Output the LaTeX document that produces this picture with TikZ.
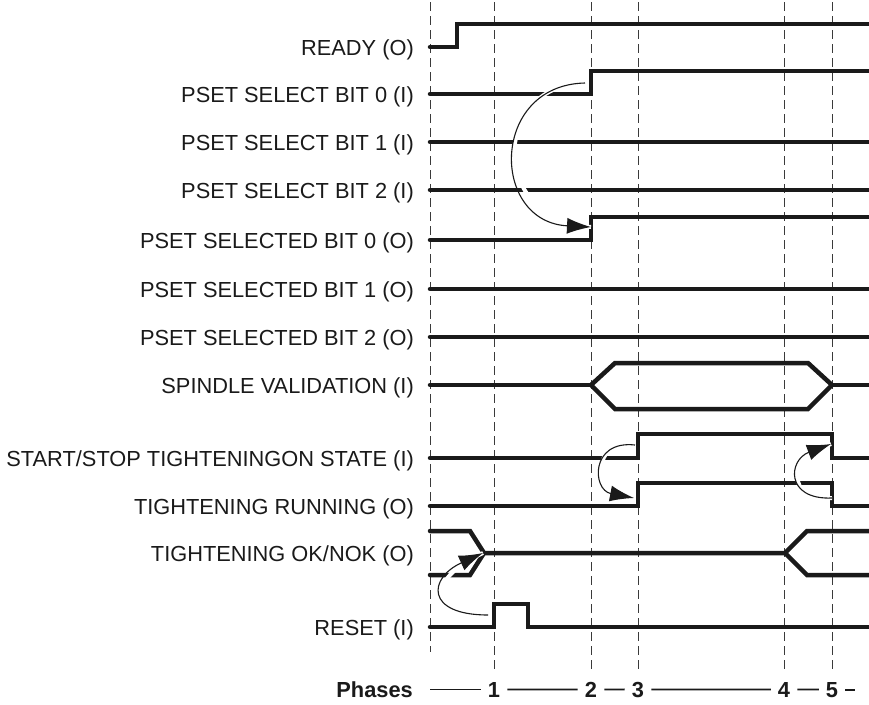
\documentclass[tikz,border=0pt]{standalone}
\usepackage{fontspec}
\setmainfont{Liberation Sans}
\usetikzlibrary{arrows.meta}
\definecolor{ink}{HTML}{1A1A1A}
\definecolor{gridc}{HTML}{3A3A3A}
\begin{document}
\begin{tikzpicture}[x=1pt,y=-1pt,
  lbl/.style={anchor=base east, inner sep=0pt, text=ink, font=\fontsize{21.8}{25}\selectfont},
  phasetxt/.style={anchor=base, inner ysep=0pt, inner xsep=7pt, text=ink, font=\fontsize{21.8}{25}\selectfont\bfseries},
  gridline/.style={draw=gridc, line width=0.9pt, dash pattern=on 9pt off 5pt},
  sig/.style={draw=ink, line width=4.5pt, line join=miter, line cap=round},
  phl/.style={draw=ink, line width=1.8pt},
  cause/.style={draw=ink, line width=1.1pt, -{Latex[length=24pt,width=16pt]},
    preaction={draw=white, line width=4pt, -}}
]
\useasboundingbox[fill=white] (0,0) rectangle (869,704);

% dashed phase guides
\draw[gridline] (430,2) -- (430,652);
\foreach \x in {494,591,638,784,832} \draw[gridline] (\x,2) -- (\x,673);

% labels
\node[lbl] (lready) at (414,55) {READY (O)};
\node[lbl] (lsel0) at (414,102) {PSET SELECT BIT 0 (I)};
\node[lbl] (lsel1) at (414,150) {PSET SELECT BIT 1 (I)};
\node[lbl] (lsel2) at (414,198) {PSET SELECT BIT 2 (I)};
\node[lbl] (lsd0) at (414,248) {PSET SELECTED BIT 0 (O)};
\node[lbl] (lsd1) at (414,297) {PSET SELECTED BIT 1 (O)};
\node[lbl] (lsd2) at (414,345) {PSET SELECTED BIT 2 (O)};
\node[lbl] (lspin) at (414,393) {SPINDLE VALIDATION (I)};
\node[lbl] (lstart) at (414,466) {START/STOP TIGHTENINGON STATE (I)};
\node[lbl] (lrun) at (414,514) {TIGHTENING RUNNING (O)};
\node[lbl] (lok) at (414,561) {TIGHTENING OK/NOK (O)};
\node[lbl] (lreset) at (414,635) {RESET (I)};

% signals
\draw[sig] (430,47) -- (457,47) -- (457,24) -- (872,24);
\draw[sig] (430,94) -- (591,94) -- (591,71) -- (872,71);
\draw[sig] (430,142) -- (872,142);
\draw[sig] (430,190) -- (872,190);
\draw[sig] (430,240) -- (591,240) -- (591,217) -- (872,217);
\draw[sig] (430,289) -- (872,289);
\draw[sig] (430,337) -- (872,337);
\draw[sig] (430,385) -- (591,385);
\draw[sig,line cap=butt] (591,385) -- (615,363) -- (808,363) -- (832,385) -- (808,409) -- (615,409) -- cycle;
\draw[sig] (832,385) -- (872,385);
\draw[sig] (430,458) -- (638,458) -- (638,434) -- (832,434) -- (832,458) -- (872,458);
\draw[sig] (430,506) -- (638,506) -- (638,483) -- (832,483) -- (832,506) -- (872,506);
\draw[sig] (430,531) -- (470,531) -- (484,553) -- (785,553) -- (807,531) -- (872,531);
\draw[sig] (430,575) -- (470,575) -- (484,553);
\draw[sig] (785,553) -- (807,575) -- (872,575);
\draw[sig] (430,627) -- (494,627) -- (494,604) -- (528,604) -- (528,627) -- (872,627);

% cause-effect arrows
\coordinate (a1s) at (585,83);   \coordinate (a1e) at (591,227);
\coordinate (a2s) at (635,445);  \coordinate (a2e) at (634,498);
\coordinate (a3s) at (832,498);  \coordinate (a3e) at (831,444);
\coordinate (a4s) at (488,615);  \coordinate (a4e) at (483,553);
\draw[cause] (a1s) .. controls (490,85) and (490,222) .. (a1e);
\draw[cause] (a2s) .. controls (590,440) and (592,490) .. (a2e);
\draw[cause] (a3s) .. controls (785,500) and (788,460) .. (a3e);
\draw[cause] (a4s) .. controls (425,615) and (428,578) .. (a4e);

% phases
\node[anchor=base east, inner sep=0pt, text=ink, font=\fontsize{21.8}{25}\selectfont\bfseries] (phases) at (413,697) {Phases};
\node[phasetxt] (p1) at (494,697) {1};
\node[phasetxt] (p2) at (591,697) {2};
\node[phasetxt] (p3) at (638,697) {3};
\node[phasetxt] (p4) at (784,697) {4};
\node[phasetxt] (p5) at (832,697) {5};
\coordinate (ph0) at (430,689.5);
\coordinate (ph6) at (855,689.5);
\draw[phl] (ph0 |- p1) -- (p1);
\draw[phl] (p1) -- (p2);
\draw[phl] (p2) -- (p3);
\draw[phl] (p3) -- (p4);
\draw[phl] (p4) -- (p5);
\draw[phl] (p5) -- (ph6 |- p5);
\end{tikzpicture}
\end{document}
